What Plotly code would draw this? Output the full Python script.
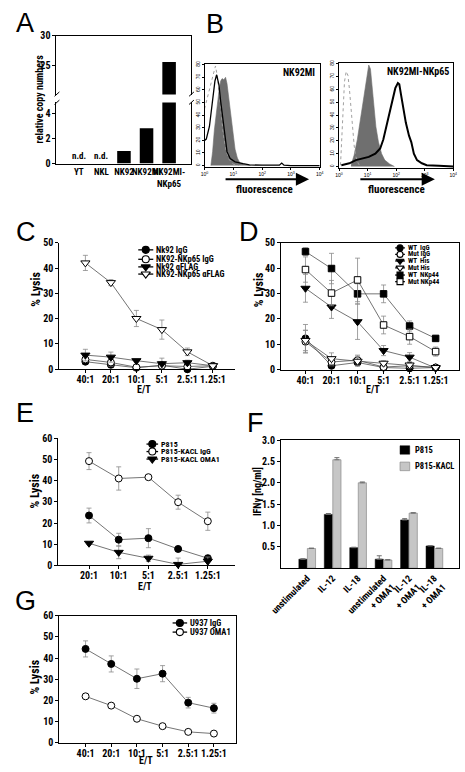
import plotly.graph_objects as go

W, H = 465, 772
FONT = "Noto Sans ExtraCondensed, Noto Sans Condensed, Roboto Condensed, Liberation Sans Narrow, Liberation Sans, Arial, sans-serif"
LFONT = "Liberation Sans, Arial, sans-serif"

# ---------------- data ----------------
# Panel A
a_cells = ["YT", "NKL", "NK92", "NK92MI", "NK92MI-<br>NKp65"]
a_copies = [0, 0, 1.0, 2.8, 25.5]
a_nd = ["n.d.", "n.d.", "", "", ""]

# Panel B (x in decades of fluorescence, y = counts)
b1_iso_x = [0.0, 0.1, 0.2, 0.3, 0.38, 0.45, 0.55, 0.65, 0.75, 0.85, 1.0, 1.2]
b1_iso_y = [45, 55, 63, 72, 79, 70, 45, 25, 12, 5, 1, 0]
b1_ctrl_x = [0.22, 0.28, 0.34, 0.42, 0.5, 0.56, 0.61, 0.67, 0.73, 0.78, 0.84, 0.92, 0.98, 1.06, 1.14, 1.23, 1.45, 1.6]
b1_ctrl_y = [0, 11, 28, 46, 59, 67, 69, 68, 70, 65, 54, 39, 26, 13, 6, 2, 0.5, 0]
b1_nkp65_x = [0.0, 0.06, 0.17, 0.28, 0.36, 0.42, 0.5, 0.56, 0.61, 0.67, 0.73, 0.78, 0.89, 1.06, 1.34, 1.56, 2.0, 2.6, 2.68, 2.76, 3.0, 4.0]
b1_nkp65_y = [20, 21, 31, 51, 67, 72, 64, 51, 41, 28, 18, 11, 5.6, 3, 1.5, 0.5, 0.3, 0.3, 2, 0.3, 0, 0]

b2_iso_x = [0.05, 0.09, 0.14, 0.19, 0.25, 0.31, 0.36, 0.42, 0.47, 0.53, 0.59, 0.68, 0.76]
b2_iso_y = [1, 19, 44, 66, 74, 71, 61, 44, 29, 16, 7.5, 2, 0]
b2_ctrl_x = [0.42, 0.53, 0.64, 0.76, 0.87, 0.96, 1.04, 1.1, 1.15, 1.21, 1.29, 1.38, 1.49, 1.6, 1.77, 1.94]
b2_ctrl_y = [1, 9, 21, 39, 56, 69, 79, 76, 64, 49, 31, 19, 10, 5, 2, 0]
b2_nkp65_x = [0.08, 0.36, 0.59, 0.81, 1.04, 1.27, 1.44, 1.55, 1.66, 1.77, 1.89, 1.97, 2.06, 2.11, 2.17, 2.26, 2.34, 2.45, 2.53, 2.62, 2.73, 2.9, 3.07, 3.5, 4.0]
b2_nkp65_y = [1, 2.5, 5, 6, 7.5, 10, 14, 21, 31, 41, 54, 61, 65, 64, 56, 44, 34, 24, 19, 10, 5, 2.5, 1, 0.5, 0]
b_ticks = ["10<sup>0</sup>", "10<sup>1</sup>", "10<sup>2</sup>", "10<sup>3</sup>", "10<sup>4</sup>"]

# E/T ratios
et6 = ["40:1", "20:1", "10:1", "5:1", "2.5:1", "1.25:1"]
et5 = ["20:1", "10:1", "5:1", "2.5:1", "1.25:1"]

# Panel C
c_nk92_igg = [3.0, 1.8, 0.6, 1.6, 0.0, 1.2]
c_nk92_igg_err = [1.0, 1.2, 0.5, 0.8, 0.4, 0.3]
c_nkp65_igg = [3.9, 2.7, 0.8, 1.4, 1.1, 1.4]
c_nkp65_igg_err = [1.0, 1.5, 0.5, 1.0, 0.5, 0.3]
c_nk92_flag = [5.6, 4.8, 3.4, 2.2, 2.6, 1.4]
c_nk92_flag_err = [2.3, 2.0, 0.5, 2.2, 1.0, 0.3]
c_nkp65_flag = [42.1, 34.3, 20.1, 15.7, 6.9, 1.4]
c_nkp65_flag_err = [3.0, 1.2, 3.2, 3.8, 1.5, 0.5]

# Panel D
d_wt_igg = [12.3, 1.5, 2.8, 0.8, 0.5, 0.8]
d_wt_igg_err = [5.5, 1.0, 1.0, 0.5, 0.5, 0.3]
d_mut_igg = [11.0, 3.0, 3.7, 1.0, 1.5, 0.8]
d_mut_igg_err = [4.5, 1.5, 2.0, 0.8, 0.8, 0.3]
d_wt_his = [32.1, 24.7, 18.9, 7.5, 4.9, 0.6]
d_wt_his_err = [5.5, 4.5, 7.0, 2.0, 1.8, 0.5]
d_mut_his = [11.5, 4.3, 3.3, 2.5, 1.8, 0.8]
d_mut_his_err = [4.0, 2.3, 2.0, 1.0, 0.8, 0.3]
d_wt_44 = [46.6, 39.9, 29.9, 29.9, 17.2, 12.3]
d_wt_44_err = [1.5, 6.0, 4.0, 3.5, 2.0, 1.0]
d_mut_44 = [39.5, 30.2, 35.4, 17.6, 13.0, 7.1]
d_mut_44_err = [5.0, 5.0, 8.6, 3.5, 3.0, 1.8]

# Panel E
e_p815 = [23.6, 12.2, 12.9, 7.8, 3.4]
e_p815_err = [3.5, 3.0, 4.5, 1.2, 1.5]
e_kacl_igg = [49.3, 41.1, 41.7, 29.9, 20.9]
e_kacl_igg_err = [4.0, 5.5, 0.5, 3.3, 4.3]
e_kacl_oma1 = [10.5, 6.2, 3.4, 0.5, 2.0]
e_kacl_oma1_err = [0.5, 3.0, 1.5, 3.0, 2.0]

# Panel F
f_conditions = ["unstimulated", "IL-12", "IL-18", "unstimulated<br>+ OMA1", "IL-12<br>+ OMA1", "IL-18<br>+ OMA1"]
f_p815 = [0.21, 1.26, 0.48, 0.21, 1.13, 0.52]
f_p815_err = [0.01, 0.02, 0.01, 0.08, 0.03, 0.01]
f_kacl = [0.46, 2.54, 2.0, 0.19, 1.29, 0.46]
f_kacl_err = [0.01, 0.05, 0.02, 0.01, 0.01, 0.01]

# Panel G
g_igg = [44.3, 37.2, 30.2, 32.6, 18.9, 16.3]
g_igg_err = [3.8, 3.8, 4.6, 3.8, 2.5, 2.3]
g_oma1 = [21.9, 17.5, 11.3, 7.8, 5.1, 4.3]
g_oma1_err = [0.3, 0.3, 0.3, 0.3, 0.3, 0.3]

# ---------------- helpers ----------------
def dx(a, b):
    return [a / W, b / W]

def dy(t, b):
    return [1 - b / H, 1 - t / H]

def px(x):
    return x / W

def py(y):
    return 1 - y / H

def tfont(size=10, bold=True, family=FONT):
    d = dict(family=family, size=size, color="black")
    if bold:
        d["weight"] = "bold"
    return d

def axis(**kw):
    d = dict(showgrid=False, zeroline=False, showline=True, linecolor="black", linewidth=1,
             ticks="outside", ticklen=3, tickwidth=1, tickcolor="black",
             tickfont=tfont(10), fixedrange=True, tickangle=0)
    d.update(kw)
    return d

fig = go.Figure()
annotations = []
shapes = []

def ann(text, x, y, size=10, bold=True, xanchor="center", yanchor="middle", angle=0, family=FONT):
    annotations.append(dict(text=text, x=px(x), y=py(y), xref="paper", yref="paper",
                            showarrow=False, xanchor=xanchor, yanchor=yanchor, textangle=angle,
                            font=tfont(size, bold, family)))

def series(xa, ya, x, y, err, symbol, filled, size=7):
    fig.add_trace(go.Scatter(
        x=x, y=y, xaxis=xa, yaxis=ya, mode="lines+markers",
        line=dict(color="#505050", width=0.8),
        marker=dict(symbol=symbol, size=size, color="black" if filled else "white",
                    line=dict(color="black", width=1)),
        error_y=dict(type="data", array=err, color="#8a8a8a", thickness=0.8, width=2.5),
        cliponaxis=False))

def legend_key(x0, x1, yrow, symbol, filled, size, label, fsize):
    fig.add_trace(go.Scatter(x=[x0, x1], y=[yrow, yrow], xaxis="x10", yaxis="y10", mode="lines",
                             line=dict(color="black", width=1.3), cliponaxis=False))
    fig.add_trace(go.Scatter(x=[(x0 + x1) / 2], y=[yrow], xaxis="x10", yaxis="y10", mode="markers",
                             marker=dict(symbol=symbol, size=size, color="black" if filled else "white",
                                         line=dict(color="black", width=1.1)), cliponaxis=False))
    ann(label, x1 + 1, yrow, size=fsize, xanchor="left")

# ---------------- Panel A ----------------
for xa, ya in (("x", "y"), ("x2", "y2")):
    fig.add_trace(go.Bar(x=a_cells, y=a_copies, xaxis=xa, yaxis=ya, width=0.6,
                         marker=dict(color="black", line=dict(width=0))))
for c, t in zip(a_cells, a_nd):
    if t:
        annotations.append(dict(text=t, x=c, y=0, xref="x", yref="y", showarrow=False,
                                yanchor="bottom", yshift=1, font=tfont(9)))
ann("relative copy numbers", 29, 95, size=10, angle=-90)
for xx in (45, 184):
    shapes.append(dict(type="line", xref="paper", yref="paper", x0=px(xx), y0=py(91.7),
                       x1=px(xx + 5), y1=py(87.3), line=dict(color="black", width=1)))
    shapes.append(dict(type="line", xref="paper", yref="paper", x0=px(xx), y0=py(100),
                       x1=px(xx + 5), y1=py(95.6), line=dict(color="black", width=1)))

# ---------------- Panel B ----------------
for xa, ya, ix, iy, cx, cy, nx, ny, lw in (
        ("x3", "y3", b1_iso_x, b1_iso_y, b1_ctrl_x, b1_ctrl_y, b1_nkp65_x, b1_nkp65_y, 1.3),
        ("x4", "y4", b2_iso_x, b2_iso_y, b2_ctrl_x, b2_ctrl_y, b2_nkp65_x, b2_nkp65_y, 2.0)):
    fig.add_trace(go.Scatter(x=cx, y=cy, xaxis=xa, yaxis=ya, mode="lines", fill="tozeroy",
                             fillcolor="#6f6f6f", line=dict(color="#6f6f6f", width=0.6)))
    fig.add_trace(go.Scatter(x=ix, y=iy, xaxis=xa, yaxis=ya, mode="lines",
                             line=dict(color="#a0a0a0", width=1, dash="dot")))
    fig.add_trace(go.Scatter(x=nx, y=ny, xaxis=xa, yaxis=ya, mode="lines",
                             line=dict(color="black", width=lw)))
ann("NK92MI", 316, 68, size=10, xanchor="right")
ann("NK92MI-NKp65", 455, 67, size=10, xanchor="right")
for x0, x1, xc in ((223, 308, 262), (362, 438, 398)):
    annotations.append(dict(text="", x=px(x1), y=py(176), xref="paper", yref="paper",
                            ax=x0 - x1, ay=0, axref="pixel", ayref="pixel", showarrow=True,
                            arrowhead=2, arrowsize=1.2, arrowwidth=2.2, arrowcolor="black"))
    ann("fluorescence", xc, 186, size=11)

# ---------------- Panel C ----------------
series("x5", "y5", et6, c_nk92_igg, c_nk92_igg_err, "circle", True)
series("x5", "y5", et6, c_nkp65_igg, c_nkp65_igg_err, "circle", False)
series("x5", "y5", et6, c_nk92_flag, c_nk92_flag_err, "triangle-down", True, 8)
series("x5", "y5", et6, c_nkp65_flag, c_nkp65_flag_err, "triangle-down", False, 8)
legend_key(131.5, 147, 247.7, "circle", True, 7, "Nk92 IgG", 8.5)
legend_key(131.5, 147, 257.3, "circle", False, 7, "NK92-NKp65 IgG", 8.5)
legend_key(131.5, 147, 265, "triangle-down", True, 8, "Nk92 αFLAG", 8.5)
legend_key(131.5, 147, 272.3, "triangle-down", False, 8, "NK92-NKp65 αFLAG", 8.5)
ann("% Lysis", 25, 288, size=12, angle=-90)
ann("E/T", 137, 390, size=10)

# ---------------- Panel D ----------------
series("x6", "y6", et6, d_wt_igg, d_wt_igg_err, "circle", True)
series("x6", "y6", et6, d_mut_igg, d_mut_igg_err, "circle", False)
series("x6", "y6", et6, d_wt_his, d_wt_his_err, "triangle-down", True, 8)
series("x6", "y6", et6, d_mut_his, d_mut_his_err, "triangle-down", False, 8)
series("x6", "y6", et6, d_wt_44, d_wt_44_err, "square", True, 6.5)
series("x6", "y6", et6, d_mut_44, d_mut_44_err, "square", False, 6.5)
d_rows = [245.7, 252.3, 259, 266, 273.3, 280]
d_labels = ["WT  IgG", "Mut IgG", "WT  His", "Mut His", "WT  NKp44", "Mut NKp44"]
d_syms = [("circle", True, 6), ("circle", False, 6), ("triangle-down", True, 7),
          ("triangle-down", False, 7), ("square", True, 6), ("square", False, 6)]
for r, lab, (s, f, sz) in zip(d_rows, d_labels, d_syms):
    legend_key(397, 407, r, s, f, sz, lab, 7)
ann("% Lysis", 256, 288, size=12, angle=-90)
ann("E/T", 374, 390, size=10)

# ---------------- Panel E ----------------
series("x7", "y7", et5, e_p815, e_p815_err, "circle", True)
series("x7", "y7", et5, e_kacl_igg, e_kacl_igg_err, "circle", False)
series("x7", "y7", et5, e_kacl_oma1, e_kacl_oma1_err, "triangle-down", True, 8)
legend_key(140, 152, 445, "circle", True, 7, "P815", 8)
legend_key(140, 152, 452.6, "circle", False, 7, "P815-KACL IgG", 8)
legend_key(140, 152, 460.2, "triangle-down", True, 8, "P815-KACL OMA1", 8)
ann("% Lysis", 25, 493, size=12, angle=-90)
ann("E/T", 138, 590, size=10)

# ---------------- Panel F ----------------
fig.add_trace(go.Bar(x=f_conditions, y=f_p815, xaxis="x8", yaxis="y8",
                     marker=dict(color="black", line=dict(color="black", width=0.5)),
                     error_y=dict(type="data", symmetric=False, array=f_p815_err,
                                  arrayminus=[0] * len(f_p815_err), color="#707070",
                                  thickness=1, width=2.5)))
fig.add_trace(go.Bar(x=f_conditions, y=f_kacl, xaxis="x8", yaxis="y8",
                     marker=dict(color="#c6c6c6", line=dict(color="#8a8a8a", width=0.7)),
                     error_y=dict(type="data", symmetric=False, array=f_kacl_err,
                                  arrayminus=[0] * len(f_kacl_err), color="#707070",
                                  thickness=1, width=2.5)))
shapes.append(dict(type="rect", xref="paper", yref="paper", x0=px(402), x1=px(412),
                   y0=py(455.3), y1=py(446.7), fillcolor="black", line=dict(color="black", width=0.5)))
shapes.append(dict(type="rect", xref="paper", yref="paper", x0=px(402), x1=px(412),
                   y0=py(472), y1=py(463.3), fillcolor="#c6c6c6", line=dict(color="#8a8a8a", width=0.7)))
ann("P815", 415, 451, size=8.5, xanchor="left")
ann("P815-KACL", 415, 467.7, size=8.5, xanchor="left")
ann("IFNγ [ng/ml]", 255, 493, size=10, angle=-90)

# ---------------- Panel G ----------------
series("x9", "y9", et6, g_igg, g_igg_err, "circle", True)
series("x9", "y9", et6, g_oma1, g_oma1_err, "circle", False)
legend_key(167, 182, 626.7, "circle", True, 7, "U937 IgG", 8.5)
legend_key(167, 182, 636, "circle", False, 7, "U937 OMA1", 8.5)
ann("% Lysis", 25, 682, size=12, angle=-90)
ann("E/T", 139, 766, size=10)

# ---------------- panel letters ----------------
for L, x, y in (("A", 3, 17), ("B", 199, 18), ("C", 3, 230), ("D", 234, 230),
                ("E", 3, 413), ("F", 242, 424), ("G", 2, 604)):
    ann(L, x, y, size=27, bold=False, xanchor="left", family=LFONT)

# ---------------- layout ----------------
small = tfont(5, bold=False, family=LFONT)
cat = dict(type="category", ticklabelstandoff=-2)
layout = dict(
    width=W, height=H, margin=dict(l=0, r=0, t=0, b=0),
    paper_bgcolor="white", plot_bgcolor="rgba(0,0,0,0)", showlegend=False,
    barmode="group", bargap=0.33, bargroupgap=0.04,
    font=dict(family=FONT, color="black"),
    # A
    xaxis=axis(domain=dx(47, 186), range=[-0.99, 4.97], type="category", ticks="",
               tickfont=tfont(9), anchor="y"),
    yaxis=axis(domain=dy(98, 160), range=[0, 4.85], tickvals=[0, 2, 4], mirror=True, anchor="x"),
    xaxis2=axis(domain=dx(47, 186), range=[-0.99, 4.97], type="category", ticks="",
                showticklabels=False, side="top", anchor="y2", matches="x"),
    yaxis2=axis(domain=dy(30, 90), range=[20, 30], tickvals=[25, 30], mirror=True, anchor="x2"),
    # B
    xaxis3=axis(domain=dx(200, 319), range=[0, 4], tickvals=[0, 1, 2, 3, 4], ticktext=b_ticks,
                tickfont=small, ticklen=2, mirror=True, anchor="y3"),
    yaxis3=axis(domain=dy(59, 164), range=[-1.5, 80.5], tickvals=list(range(0, 81, 10)),
                tickfont=small, tickangle=-90, ticklen=2, mirror=True, anchor="x3"),
    xaxis4=axis(domain=dx(339, 457), range=[0, 4], tickvals=[0, 1, 2, 3, 4], ticktext=b_ticks,
                tickfont=small, ticklen=2, mirror=True, anchor="y4"),
    yaxis4=axis(domain=dy(58, 165), range=[-1.5, 80.5], tickvals=list(range(0, 81, 10)),
                tickfont=small, tickangle=-90, ticklen=2, mirror=True, anchor="x4"),
    # C
    xaxis5=axis(domain=dx(50, 231), range=[-1.02, 5.85], anchor="y5", **cat),
    yaxis5=axis(domain=dy(240.7, 369), range=[0, 50], tickvals=[0, 10, 20, 30, 40, 50], anchor="x5"),
    # D
    xaxis6=axis(domain=dx(279, 463), range=[-0.94, 5.9], mirror=True, anchor="y6", **cat),
    yaxis6=axis(domain=dy(240.7, 369.3), range=[0, 50], tickvals=[0, 10, 20, 30, 40, 50],
                mirror=True, anchor="x6"),
    # E
    xaxis7=axis(domain=dx(49, 231), range=[-1.03, 4.9], anchor="y7", **cat),
    yaxis7=axis(domain=dy(439.3, 568.3), range=[0, 60], tickvals=[0, 10, 20, 30, 40, 50, 60], anchor="x7"),
    # F
    xaxis8=axis(domain=dx(279, 463), range=[-1.03, 5.97], type="category", ticks="",
                tickangle=-45, tickfont=tfont(9.5), mirror=True, anchor="y8"),
    yaxis8=axis(domain=dy(441, 571), range=[0, 3.0], tickvals=[0.5, 1.0, 1.5, 2.0, 2.5, 3.0],
                tickformat=".1f", mirror=True, anchor="x8"),
    # G
    xaxis9=axis(domain=dx(50, 233), range=[-1.02, 5.88], mirror=True, anchor="y9", **cat),
    yaxis9=axis(domain=dy(619.3, 748.3), range=[0, 60], tickvals=[0, 10, 20, 30, 40, 50, 60],
                mirror=True, anchor="x9"),
    # legend helper (pixel space)
    xaxis10=dict(domain=[0, 1], range=[0, W], visible=False, fixedrange=True, anchor="y10"),
    yaxis10=dict(domain=[0, 1], range=[H, 0], visible=False, fixedrange=True, anchor="x10"),
    annotations=annotations, shapes=shapes,
)
fig.update_layout(**layout)
fig.write_html("out.html", config={"displayModeBar": False},
               post_script="document.body.style.margin='0px';")
